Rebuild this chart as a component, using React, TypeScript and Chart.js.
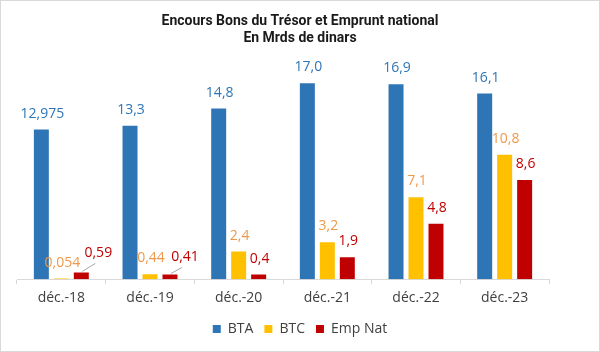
import React, { useEffect, useRef } from "react";
import { Chart, registerables } from "chart.js";

Chart.register(...registerables);

const TITLE_LINES = ["Encours Bons du Trésor et Emprunt national", "En Mrds de dinars"];
const CATEGORIES = ["déc.-18", "déc.-19", "déc.-20", "déc.-21", "déc.-22", "déc.-23"];
const SERIES_NAMES = ["BTA", "BTC", "Emp Nat"];
const BTA = [12.975, 13.3, 14.8, 17.0, 16.9, 16.1];
const BTC = [0.054, 0.44, 2.4, 3.2, 7.1, 10.8];
const EMP_NAT = [0.59, 0.41, 0.4, 1.9, 4.8, 8.6];
const BTA_LABELS = ["12,975", "13,3", "14,8", "17,0", "16,9", "16,1"];
const BTC_LABELS = ["0,054", "0,44", "2,4", "3,2", "7,1", "10,8"];
const EMP_LABELS = ["0,59", "0,41", "0,4", "1,9", "4,8", "8,6"];

const BAR_COLORS = ["#2E75B6", "#FFC000", "#C00000"];
const LABEL_COLORS = ["#2E75B6", "#EE9A4D", "#C00000"];
const LABEL_TEXTS = [BTA_LABELS, BTC_LABELS, EMP_LABELS];
// style: label shifts (px) for a few crowded labels
const LABEL_SHIFT: Record<string, { dx: number; dy: number; leader?: boolean }> = {
  "2-0": { dx: 16, dy: -3, leader: true },
  "2-1": { dx: 14, dy: -1, leader: true },
};

const FONT = "'Open Sans', 'DejaVu Sans', sans-serif";

const dataLabelPlugin = {
  id: "dataLabels",
  afterDatasetsDraw(chart: any) {
    const ctx = chart.ctx;
    ctx.save();
    ctx.font = `14px ${FONT}`;
    ctx.textAlign = "center";
    ctx.textBaseline = "middle";
    chart.data.datasets.forEach((_ds: any, di: number) => {
      const meta = chart.getDatasetMeta(di);
      meta.data.forEach((bar: any, i: number) => {
        const adj = LABEL_SHIFT[`${di}-${i}`] || { dx: 0, dy: 0 };
        const x = bar.x + 1 + adj.dx;
        const y = bar.y - 16 + adj.dy;
        if (adj.leader) {
          ctx.strokeStyle = "#a6a6a6";
          ctx.lineWidth = 1;
          ctx.beginPath();
          ctx.moveTo(bar.x + 1, bar.y - 1);
          ctx.lineTo(x - 3, y + 10);
          ctx.stroke();
        }
        ctx.fillStyle = LABEL_COLORS[di];
        ctx.fillText(LABEL_TEXTS[di][i], x, y);
      });
    });
    ctx.restore();
  },
};

export default function App() {
  const ref = useRef<HTMLCanvasElement>(null);
  useEffect(() => {
    if (!ref.current) return;
    const chart = new Chart(ref.current, {
      type: "bar",
      data: {
        labels: CATEGORIES,
        datasets: [BTA, BTC, EMP_NAT].map((d, i) => ({
          label: SERIES_NAMES[i],
          data: d,
          backgroundColor: BAR_COLORS[i],
          borderWidth: 0,
          barPercentage: 0.75,
          categoryPercentage: 0.676,
        })),
      },
      options: {
        responsive: false,
        animation: false,
        devicePixelRatio: 1,
        layout: { padding: { top: 0, bottom: 5, left: 0, right: 0 } },
        plugins: {
          title: {
            display: true,
            text: TITLE_LINES,
            color: "#1a1a1a",
            font: { family: "'Liberation Sans Narrow', 'Roboto', sans-serif", size: 14, weight: "bold", lineHeight: 1.2 },
            padding: { top: 12, bottom: 2 },
          },
          legend: {
            position: "bottom",
            labels: {
              boxWidth: 8,
              boxHeight: 8,
              padding: 11,
              color: "#404040",
              font: { family: FONT, size: 14 },
            },
          },
          tooltip: { enabled: false },
        },
        scales: {
          x: {
            grid: { display: true, drawOnChartArea: false, drawTicks: true, tickLength: 5, color: "#d9d9d9", offset: true },
            border: { color: "#d9d9d9" },
            ticks: { color: "#404040", padding: 5, font: { family: FONT, size: 14 } },
          },
          y: {
            position: "left",
            min: 0,
            max: 20,
            ticks: { display: false },
            grid: { display: false },
            border: { display: false },
            afterFit(s: any) { s.width = 16; },
          },
          y2: {
            position: "right",
            ticks: { display: false },
            grid: { display: false },
            border: { display: false },
            afterFit(s: any) { s.width = 50; },
          },
        },
      },
      plugins: [dataLabelPlugin],
    } as any);
    return () => chart.destroy();
  }, []);
  return (
    <div
      style={{
        position: "fixed",
        left: 0,
        top: 0,
        width: 600,
        height: 352,
        boxSizing: "border-box",
        border: "1px solid #d9d9d9",
        background: "#fff",
      }}
    >
      <canvas ref={ref} width={598} height={350} style={{ display: "block", width: 598, height: 350 }} />
    </div>
  );
}
